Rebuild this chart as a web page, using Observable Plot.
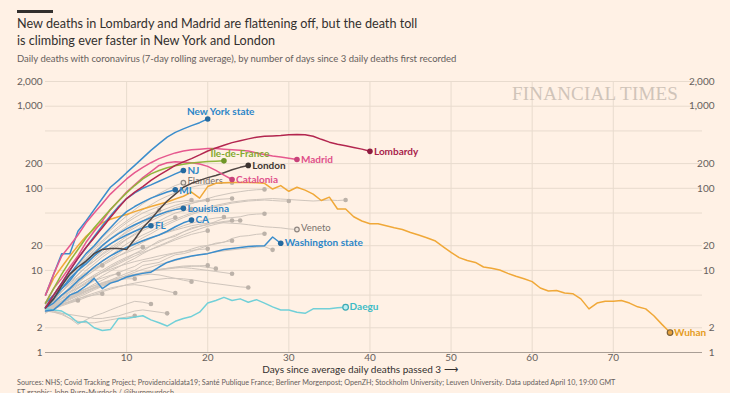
<!DOCTYPE html>
<html>
<head>
<meta charset="utf-8">
<script src="https://cdn.jsdelivr.net/npm/d3@7"></script>
<script src="https://cdn.jsdelivr.net/npm/@observablehq/plot@0.6"></script>
<style>
  html, body { margin: 0; padding: 0; }
  body { width: 730px; height: 393px; overflow: hidden; background: #fff1e5; position: relative; font-family: Lato, "Noto Sans", sans-serif; color: #33302e; }
  #bar { position: absolute; left: 17px; top: 10px; width: 36px; height: 3px; background: #33302e; }
  #title { position: absolute; left: 17px; top: 16px; font-size: 12.65px; line-height: 16.7px; color: #33302e; white-space: nowrap; }
  #subtitle { position: absolute; left: 17px; top: 53px; font-size: 9.5px; line-height: 12px; color: #66605c; white-space: nowrap; }
  #chart { position: absolute; left: 0; top: 70px; }
  #watermark { position: absolute; left: 512px; top: 83px; font-family: "Liberation Serif", "DejaVu Serif", serif; font-size: 19px; color: #d0c4b9; letter-spacing: 0.2px; white-space: nowrap; }
  #source { position: absolute; left: 17px; top: 378px; font-size: 7.2px; line-height: 10px; color: #66605c; white-space: nowrap; }
</style>
</head>
<body>
<div id="bar"></div>
<div id="title">New deaths in Lombardy and Madrid are flattening off, but the death toll<br>is climbing ever faster in New York and London</div>
<div id="subtitle">Daily deaths with coronavirus (7-day rolling average), by number of days since 3 daily deaths first recorded</div>
<div id="chart"></div>
<div id="watermark">FINANCIAL TIMES</div>
<div id="source">Sources: NHS; Covid Tracking Project; Providencialdata19; Santé Publique France; Berliner Morgenpost; OpenZH; Stockholm University; Leuven University. Data updated April 10, 19:00 GMT<br>FT graphic: John Burn-Murdoch / @jburnmurdoch</div>
<script>
// ---------- axis ticks ----------
const xTicks = [10, 20, 30, 40, 50, 60, 70];
const yTicks = [1, 2, 5, 10, 20, 50, 100, 200, 500, 1000, 2000];
const xLabel = "Days since average daily deaths passed 3 \u27F6";

// ---------- highlighted series (index = days since 3 daily deaths) ----------
const newYorkState = [5, 9, 16, 16, 30, 40, 55, 75, 103, 125, 155, 190, 235, 290, 350, 420, 480, 530, 580, 630, 700];
const newJersey = [4, 5, 7, 10, 14, 19, 26, 35, 46, 60, 75, 88, 100, 110, 122, 135, 150, 165];
const michigan = [3.5, 5, 7, 9, 12, 16, 20, 26, 33, 42, 52, 60, 68, 76, 83, 90, 96];
const louisiana = [3.5, 4.5, 6, 7.5, 10, 13, 16, 20, 24, 28, 32, 36, 40, 44, 48, 52, 55, 57];
const california = [3.5, 4, 5, 6, 7.5, 9, 11, 13, 15, 17, 19, 21, 23, 25, 27, 30, 34, 38, 41];
const florida = [3.5, 4.5, 6, 8, 10, 12, 15, 18, 21, 24, 27, 30, 33, 35];
const washingtonState = [3.2, 3.3, 4, 5, 5.5, 6.5, 8, 6, 7, 7.5, 8.3, 8.8, 9.2, 9.5, 11, 12.5, 13.5, 14.3, 15, 15.5, 16, 17, 18, 18.5, 19, 19.5, 19.8, 20, 25.5, 21.4];
const lombardy = [3.5, 5, 7, 10, 14, 19, 25, 33, 44, 58, 75, 90, 105, 125, 145, 165, 190, 210, 230, 255, 285, 310, 335, 360, 380, 400, 420, 430, 435, 440, 448, 452, 450, 430, 395, 365, 345, 330, 315, 300, 282];
const madrid = [5, 9, 15, 20, 27, 38, 50, 65, 85, 105, 130, 155, 180, 205, 230, 250, 270, 285, 295, 300, 305, 305, 300, 295, 290, 285, 270, 258, 248, 240, 232, 224];
const catalonia = [4, 6, 8, 11, 15, 22, 30, 40, 55, 70, 90, 110, 135, 160, 190, 205, 210, 208, 205, 198, 185, 165, 145, 128];
const ileDeFrance = [4, 6, 9, 13, 18, 25, 33, 43, 55, 70, 88, 108, 130, 150, 165, 178, 188, 196, 203, 208, 212, 214, 216];
const london = [3.5, 4.5, 6.5, 9, 11, 13, 16, 18, 18.5, 18.5, 18, 24, 33, 42, 55, 70, 85, 103, 115, 125, 135, 143, 155, 168, 180, 190];
const daegu = [3.4, 3.3, 3.2, 2.8, 2.3, 2.4, 2.0, 1.85, 1.9, 2.6, 2.6, 2.7, 2.8, 2.5, 2.3, 2.1, 2.4, 2.6, 2.75, 3.1, 4.0, 4.3, 4.7, 4.3, 4.5, 4.1, 4.4, 4.0, 3.6, 3.3, 3.3, 3.1, 3.0, 3.4, 3.4, 3.4, 3.5, 3.56];
const wuhan = [5, 8, 11, 15, 20, 26, 32, 38, 42, 45, 48, 52, 56, 60, 64, 68, 74, 80, 90, 76, 105, 115, 117, 118, 118, 118, 117, 115, 98, 108, 92, 103, 95, 85, 71, 78, 56, 56, 45, 40, 37, 37, 35, 33, 31.5, 29, 27, 25, 23, 19.5, 16.6, 14.3, 13.2, 12.5, 11, 10.6, 10.1, 9.2, 8.5, 7.9, 7.3, 6.1, 5.6, 5.7, 5.3, 5.2, 4.5, 3.4, 4.0, 4.2, 4.2, 4.3, 4.0, 3.6, 3.4, 2.8, 2.2, 1.75];

const highlightNames = ["Daegu", "Wuhan", "Washington state", "CA", "FL", "Louisiana", "MI", "NJ", "New York state", "London", "Catalonia", "Île-de-France", "Madrid", "Lombardy"];
const highlightValues = [daegu, wuhan, washingtonState, california, florida, louisiana, michigan, newJersey, newYorkState, london, catalonia, ileDeFrance, madrid, lombardy];

// ---------- other regions (grey) ----------
const flanders = [3.6, 4.8, 6.5, 8.6, 11.5, 15, 19.5, 25, 31, 38, 46, 55, 65, 75, 86, 97, 108, 117];
const veneto = [3.3, 4, 5, 6.2, 7.6, 9.2, 11, 13, 15, 17, 19, 21, 23, 25, 27, 29, 31, 33, 35, 36.5, 37.5, 38, 38, 37.5, 37, 36, 35, 34, 33.5, 33, 32, 31.5];
const grey03 = [3.5, 4.2, 5.5, 7, 9, 11, 13, 16, 19, 22, 26, 30, 35, 40, 45, 50, 55, 60, 65, 70, 75, 80, 84, 88, 91, 94, 96, 97];
const grey04 = [3.2, 4, 5, 6, 7.5, 9, 11, 13, 15, 18, 21, 24, 27, 30, 34, 38, 42, 46, 50, 54, 58, 62, 65, 68, 70, 72, 73, 74, 75, 74, 73, 72, 71, 70, 71, 72, 71, 72];
const grey05 = [3.3, 4, 4.8, 5.8, 7, 8.5, 10, 12, 14, 16, 19, 22, 25, 28, 32, 36, 40, 44, 48, 52, 56, 60, 63, 66, 68, 70, 71, 72, 71, 70, 70];
const grey06 = [3.5, 4.5, 6, 8, 10, 12.5, 15, 18, 21, 25, 29, 33, 38, 43, 48, 53, 58, 62, 66, 69, 71, 73, 74, 75];
const grey07 = [3.4, 4.3, 5.5, 7, 9, 11, 14, 17, 21, 25, 30, 35, 40, 46, 52, 57, 62, 66, 69, 71, 72];
const grey08 = [3.6, 4.8, 6.5, 8.5, 11, 14, 18, 22, 27, 32, 38, 44, 50, 55, 60, 64, 68, 70, 72];
const grey09 = [3.2, 4, 5, 6.3, 8, 10, 12, 14.5, 17, 20, 24, 28, 32, 36, 40, 45, 50, 53, 56];
const grey10 = [3.1, 3.6, 4.2, 5, 6, 7, 8.2, 9.5, 11, 12.5, 14, 16, 17, 20, 23, 24.5, 26, 29.5, 33, 34.5, 36, 39.5, 43, 44, 45, 47.5, 48.5, 49];
const grey11 = [3.3, 3.9, 4.6, 5.5, 6.5, 7.6, 8.8, 10, 11.5, 13, 14.5, 16, 18, 20, 22, 24.5, 27, 29.5, 32, 34.5, 36.5, 38, 39.5, 40.5];
const grey12 = [3, 3.5, 4.1, 4.8, 5.6, 6.5, 7.5, 8.6, 9.8, 11, 12.5, 14, 16, 18, 20, 22, 24.5, 27, 29.5, 32, 34.5, 36.5, 38.5, 40, 40.5];
const grey13 = [3.5, 4.2, 5, 6, 7.2, 8.6, 10, 11.5, 13, 15, 17, 19.5, 22, 24.5, 27, 29.5, 32, 35, 37.5, 40, 42, 43.5, 44.6];
const grey14 = [3.8, 5, 6.5, 8.5, 11, 14, 17, 20.5, 24.5, 29, 34, 39, 44, 49, 54];
const grey15 = [3.4, 4.3, 5.5, 7, 8.8, 11, 13, 15.5, 18, 21, 24, 27, 30.5, 34, 37.5, 41, 44];
const grey16 = [3.2, 3.8, 4.5, 5.3, 6.2, 7.2, 8.3, 9.5, 10.8, 12, 13.5, 15, 16.5, 18, 19.5, 21.5, 23.5, 25.5, 27.5, 29, 30.5];
const grey17 = [3.1, 3.5, 4, 4.5, 5, 5.6, 6.2, 6.9, 7.6, 8.4, 9.2, 10, 11.5, 12, 12.5, 14, 15.5, 16, 17, 18.5, 20, 21.5, 22, 24.5, 26, 26.5, 27.5, 28];
const grey18 = [3.3, 3.7, 4.1, 4.6, 5.1, 5.6, 6.1, 6.7, 7.3, 8, 8.7, 9.5, 10.3, 11, 11.8, 12.5, 13.2, 14, 14.8, 15.5, 16.2, 16.8, 17.3, 17.8, 18.3, 18.7, 19.2, 19.5, 17.8];
const grey19 = [3.6, 4.2, 5, 5.8, 6.7, 7.6, 8.5, 9.4, 10.3, 11.2, 12, 12.8, 13.5, 14.2, 15, 15.7, 16.4, 17, 17.5, 18, 18.3];
const grey20 = [3.7, 4.6, 5.6, 6.7, 7.9, 9.2, 10.6, 12, 13.5, 15, 16.5, 18, 19.2];
const grey21 = [3.2, 3.6, 4.1, 4.7, 5.3, 6, 6.8, 7.6, 8.5, 9.4, 10.3, 11.2, 12.8, 13.2, 13.8, 15.2, 16.2, 16.8, 18.2, 19.5, 20.2, 21, 22.2, 23];
const grey22 = [3.4, 3.8, 4.3, 4.8, 5.3, 5.9, 6.5, 7.1, 7.6, 8.1, 8.6, 9, 9.4, 9.8, 10.1, 10.4, 10.7, 11, 11.2, 11.4, 11.5];
const grey23 = [3.1, 3.4, 3.8, 4.2, 4.7, 5.2, 5.8, 6.4, 7, 7.6, 8.2, 8.8, 9.3, 9.8, 10.2, 10.6, 11, 11.3, 11.4, 11.2, 10.9, 10.5];
const grey24 = [3.3, 3.6, 4, 4.4, 4.9, 5.4, 6, 6.5, 7.1, 7.7, 8.3, 8.9, 9.4, 9.9, 10.3, 10.6, 10.8, 10.8, 10.6, 10.3, 10, 9.7, 9.4, 9.1];
const grey25 = [3.2, 3.4, 3.7, 4, 4.3, 4.7, 5.1, 5.5, 5.9, 6.3, 6.7, 7, 7.3, 7.6, 7.8, 8, 8, 7.9, 7.7, 7.4, 7.1, 6.9, 6.7, 6.5, 6.3, 6.2];
const grey26 = [3.5, 3.8, 4.2, 4.7, 5.2, 5.7, 6.2, 6.7, 7.2, 7.7, 8.1, 8.5, 8.8, 9, 8.8, 8.4, 8, 7.6, 7.3];
const grey27 = [3.3, 3.5, 3.8, 4.1, 4.5, 4.9, 5.3, 5.7, 6.1, 6.4, 6.6, 6.7, 6.5, 6.2, 5.9, 5.6, 5.3];
const grey28 = [3.2, 3.1, 3, 2.9, 2.8, 2.7, 2.6, 2.6, 2.7, 2.8, 3, 3.2, 3.3, 3.2, 3.1, 3.0];
const grey29 = [3.4, 3.2, 3, 2.6, 2.2, 2.5, 2.8, 3, 3.3, 3.6, 3.9, 4.2, 4.1, 3.9];
const grey30 = [3.6, 4, 4.5, 5, 5.5, 6, 6.5, 7, 7.4, 7.7, 7.9, 7.9];
const grey31 = [3.8, 4.3, 4.9, 5.5, 6.1, 6.8, 7.5, 8.1, 8.7, 9.1];
const grey32 = [4, 5, 6, 7, 8.2, 9.4, 10.5, 11.5];
const grey33 = [3.3, 3.6, 3.9, 4.2, 4.5, 4.8, 5, 5.2];
const grey34 = [3.5, 3.7, 3.9, 4.1, 4.3];
const grey35 = [3.3, 3.1, 2.9, 2.6, 2.4, 2.3, 2.3, 2.4, 2.5, 2.6, 2.7, 2.8];
const grey36 = [3.7, 5, 6.8, 9, 12, 15, 19, 23, 28, 34, 40, 47, 55, 63, 72, 80, 88, 96, 103, 109, 113, 115, 116, 117];

const greyNames = ["Flanders", "Veneto", "", "", "", "", "", "", "", "", "", "", "", "", "", "", "", "", "", "", "", "", "", "", "", "", "", "", "", "", "", "", "", "", "", ""];
const greyValues = [flanders, veneto, grey03, grey04, grey05, grey06, grey07, grey08, grey09, grey10, grey11, grey12, grey13, grey14, grey15, grey16, grey17, grey18, grey19, grey20, grey21, grey22, grey23, grey24, grey25, grey26, grey27, grey28, grey29, grey30, grey31, grey32, grey33, grey34, grey35, grey36];

// ---------- styles (not data) ----------
const lineColor = {
  "New York state": "#3b8dcc", "NJ": "#3b8dcc", "MI": "#3b8dcc", "Louisiana": "#3b8dcc", "CA": "#3b8dcc", "FL": "#3b8dcc", "Washington state": "#3b8dcc",
  "Lombardy": "#b3264f", "Madrid": "#e6588e", "Catalonia": "#e6588e", "Île-de-France": "#92b53c", "London": "#504643",
  "Daegu": "#72d0d8", "Wuhan": "#f0a838"
};
const labelColor = {
  "New York state": "#2d86c8", "NJ": "#2d86c8", "MI": "#2d86c8", "Louisiana": "#2d86c8", "CA": "#2d86c8", "FL": "#2d86c8", "Washington state": "#2d86c8",
  "Lombardy": "#a8234b", "Madrid": "#e0508a", "Catalonia": "#e0508a", "Île-de-France": "#84a830", "London": "#3e3633",
  "Daegu": "#3cbcc6", "Wuhan": "#e59c22"
};
const dotFill = {
  "New York state": "#256aa0", "NJ": "#256aa0", "MI": "#256aa0", "Louisiana": "#256aa0", "CA": "#256aa0", "FL": "#256aa0", "Washington state": "#256aa0",
  "Lombardy": "#8e1c40", "Madrid": "#c8427a", "Catalonia": "#c8427a", "Île-de-France": "#6f9628", "London": "#3b3330",
  "Daegu": "#bfeef0", "Wuhan": "#e8a23c"
};
const dotStroke = {"Daegu": "#3aa9b3", "Wuhan": "#7b6038"};
const aboveLabels = new Set(["New York state", "Île-de-France"]);
const labelDy = {"MI": 1.5};

// ---------- tables ----------
const toRows = (names, values) => names.flatMap((name, i) => values[i].map((value, day) => ({name, key: name || "g" + i, day, value})));
const toEnds = (names, values) => names.map((name, i) => ({name, key: name || "g" + i, day: values[i].length - 1, value: values[i][values[i].length - 1]}));

const greyRows = toRows(greyNames, greyValues);
const greyEnds = toEnds(greyNames, greyValues);
const hiRows = toRows(highlightNames, highlightValues);
const hiEnds = toEnds(highlightNames, highlightValues);

const marks = [
  Plot.gridX(xTicks, {stroke: "#e8dbce", strokeOpacity: 1}),
  Plot.gridY(yTicks.slice(1), {stroke: "#e8dbce", strokeOpacity: 1}),
  Plot.ruleY([1], {stroke: "#a99e95", strokeWidth: 1}),
  Plot.axisX(xTicks, {tickSize: 0, tickPadding: 1, fill: "#66605c", fontSize: 10, label: null, tickFormat: d => d}),
  Plot.axisY(yTicks, {anchor: "left", tickSize: 0, tickPadding: 3, fill: "#66605c", fontSize: 10, label: null, tickFormat: d3.format(",")}),
  Plot.axisY(yTicks, {anchor: "right", tickSize: 0, tickPadding: 3, dx: 9, textAnchor: "end", fill: "#66605c", fontSize: 10, label: null, tickFormat: d3.format(",")}),
  Plot.text([xLabel], {frameAnchor: "bottom", dy: 20, dx: -14, text: d => d, fill: "#33302e", fontSize: 10}),
  Plot.line(greyRows, {x: "day", y: "value", z: "key", stroke: "#cfc5bc", strokeWidth: 1}),
  Plot.dot(greyEnds, {x: "day", y: "value", r: 2.3, fill: d => d.name ? "#efe4da" : "#bcb2a9", stroke: d => d.name ? "#8f8680" : "none", strokeWidth: 1.2}),
  Plot.text(greyEnds.filter(d => d.name), {x: "day", y: "value", text: "name", textAnchor: "start", dx: 4, dy: -1.5, fill: "#7a726d", fontSize: 9.5})
];

for (const name of highlightNames) {
  const rows = hiRows.filter(d => d.name === name);
  marks.push(Plot.line(rows, {x: "day", y: "value", stroke: lineColor[name], strokeWidth: 1.5, strokeLinejoin: "round"}));
}
for (const name of highlightNames) {
  const end = hiEnds.filter(d => d.name === name);
  marks.push(Plot.dot(end, {x: "day", y: "value", r: 2.8, fill: dotFill[name], stroke: dotStroke[name] || "none", strokeWidth: 1.2}));
  if (aboveLabels.has(name)) {
    marks.push(Plot.text(end, {x: "day", y: "value", text: "name", textAnchor: "middle", dx: name === "New York state" ? 13 : 16, dy: -7, fill: labelColor[name], fontWeight: "bold", fontSize: 10}));
  } else {
    marks.push(Plot.text(end, {x: "day", y: "value", text: "name", textAnchor: "start", dx: 4, dy: labelDy[name] || 0, fill: labelColor[name], fontWeight: "bold", fontSize: 10}));
  }
}

const chart = Plot.plot({
  width: 730,
  height: 306,
  marginLeft: 45,
  marginRight: 28,
  marginTop: 11,
  marginBottom: 24,
  style: {background: "transparent", fontFamily: "Lato, 'Noto Sans', sans-serif", fontSize: "10px", overflow: "visible"},
  x: {domain: [0, 81]},
  y: {type: "log", domain: [1, 2000]},
  marks
});
document.getElementById("chart").appendChild(chart);
</script>
</body>
</html>
